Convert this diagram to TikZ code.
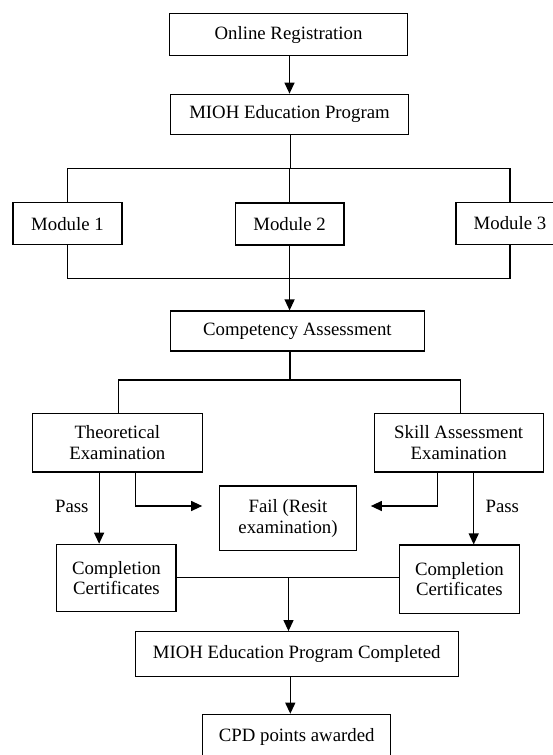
\documentclass[tikz,border=0pt]{standalone}
\usepackage{fontspec}
\setmainfont{Liberation Serif}
\usetikzlibrary{arrows.meta}
\begin{document}
\begin{tikzpicture}[x=1pt,y=-1pt,
  box/.style={draw, line width=1.2pt, inner sep=0pt, align=center,
    font=\fontsize{18.8}{20.7}\selectfont},
  lbl/.style={inner sep=0pt, font=\fontsize{18.8}{20.7}\selectfont},
  conn/.style={line width=1.2pt},
  arr/.style={line width=1.2pt, -{Triangle[length=11pt,width=10pt]}}]
\useasboundingbox (0,0) rectangle (553,755);
\clip (0,0) rectangle (553,755);
% nodes
\node[box, minimum width=238pt, minimum height=42pt] (reg) at (288.5,34.7) {Online Registration};
\node[box, minimum width=238pt, minimum height=40.5pt] (prog) at (289.5,114.5) {MIOH Education Program};
\node[box, minimum width=109pt, minimum height=42pt] (m1) at (67.5,223.7) {Module 1};
\node[box, minimum width=108.6pt, minimum height=42pt] (m2) at (289.6,224) {Module 2};
\node[box, minimum width=108pt, minimum height=42pt] (m3) at (510,223.2) {Module 3};
\node[box, minimum width=254pt, minimum height=40pt] (comp) at (297.4,331) {Competency Assessment};
\node[box, minimum width=170.4pt, minimum height=58.7pt] (theo) at (117.3,442.7) {Theoretical\\Examination};
\node[box, minimum width=169pt, minimum height=58.7pt] (skill) at (458.7,442.7) {Skill Assessment\\Examination};
\node[box, minimum width=136.5pt, minimum height=64.3pt] (fail) at (288,518.2) {Fail (Resit\\examination)};
\node[box, minimum width=119.2pt, minimum height=67.4pt] (cert1) at (116.4,578) {Completion\\Certificates};
\node[box, minimum width=119.6pt, minimum height=68.3pt] (cert2) at (459.4,579.2) {Completion\\Certificates};
\node[box, minimum width=323pt, minimum height=44.6pt] (done) at (296.7,654) {MIOH Education Program Completed};
\node[box, minimum width=187.7pt, minimum height=45pt] (cpd) at (296.7,736.8) {CPD points awarded};
\node[lbl] (pass1) at (71.8,506) {Pass};
\node[lbl] (pass2) at (502.3,506) {Pass};
% bus coordinates
\coordinate (bus1) at (290.7,168.3);
\coordinate (bus2) at (289.2,278.3);
\coordinate (bus3) at (290,380);
\coordinate (bus4) at (288.5,577.3);
\coordinate (bus5) at (290.3,676.3);
% connectors
\draw[arr] (reg.south -| prog.south) -- (prog.north);
\draw[conn] (prog.south -| bus1) -- (bus1);
\draw[conn] (m1.north) |- (bus1) -| (m3.north);
\draw[conn] (bus1) -| (m2.north);
\draw[conn] (m1.south) |- (bus2) -| (m3.south);
\draw[arr] (m2.south) -- (m2.south |- comp.north);
\draw[conn] (comp.south -| bus3) -- (bus3);
\draw[conn] ([xshift=1.2pt]theo.north) |- (bus3) -| ([xshift=1.6pt]skill.north);
\draw[arr] ([xshift=-18.2pt]theo.south) -- ([xshift=-18.2pt]theo.south |- cert1.north);
\draw[arr, shorten >=17pt] ([xshift=17.8pt]theo.south) |- ([yshift=12.2pt]fail.west);
\draw[arr, shorten >=14pt] ([xshift=-21.3pt]skill.south) |- ([yshift=12.2pt]fail.east);
\draw[arr] ([xshift=15pt]skill.south) -- ([xshift=15pt]skill.south |- cert2.north);
\draw[conn] (cert1.east |- bus4) -- (cert2.west |- bus4);
\draw[arr] (bus4) -- (bus4 |- done.north);
\draw[arr] (done.south -| bus5) -- (bus5 |- cpd.north);
\end{tikzpicture}
\end{document}
